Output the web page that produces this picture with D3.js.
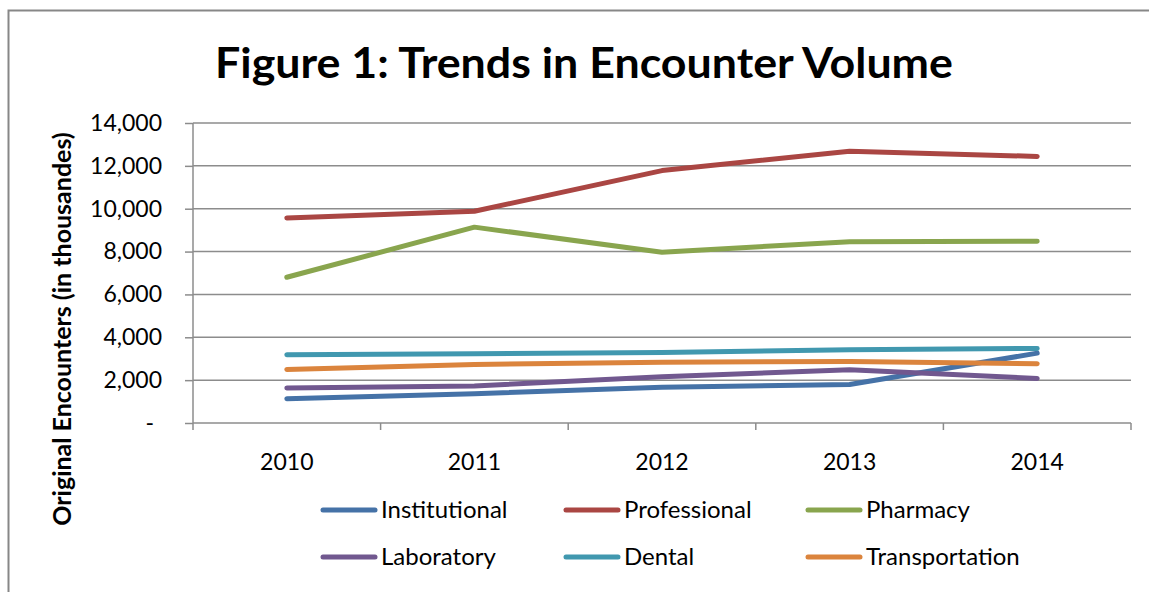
<!DOCTYPE html>
<html>
<head>
<meta charset="utf-8">
<script src="https://cdn.jsdelivr.net/npm/d3@7"></script>
<style>
  body { margin: 0; background: #fff; }
  svg { display: block; font-family: Lato, "Open Sans", sans-serif; }
</style>
</head>
<body>
<svg id="chart" width="1149" height="592"></svg>
<script>
// chart data
const years = ['2010', '2011', '2012', '2013', '2014'];
const seriesNames = ['Institutional', 'Professional', 'Pharmacy', 'Laboratory', 'Dental', 'Transportation'];
const institutional = [1130, 1370, 1670, 1800, 3260];
const professional = [9570, 9880, 11780, 12680, 12440];
const pharmacy = [6800, 9140, 7970, 8460, 8480];
const laboratory = [1630, 1730, 2160, 2480, 2080];
const dental = [3190, 3230, 3290, 3420, 3480];
const transportation = [2500, 2730, 2840, 2870, 2770];
const yTicks = [0, 2000, 4000, 6000, 8000, 10000, 12000, 14000];
const colors = ['#4572A7', '#AA4643', '#89A54E', '#71588F', '#4198AF', '#DB843D'];

const seriesValues = [institutional, professional, pharmacy, laboratory, dental, transportation];
const series = seriesNames.map((name, i) => ({name: name, values: seriesValues[i], color: colors[i]}));

const svg = d3.select('#chart');
const margin = {left: 193, right: 18, top: 123, bottom: 169};
const width = 1149 - margin.left - margin.right;
const height = 592 - margin.top - margin.bottom;

// outer frame
svg.append('path')
  .attr('d', 'M8.5,600 V10.5 H1160')
  .attr('fill', 'none')
  .attr('stroke', '#878787')
  .attr('stroke-width', 2);

svg.append('text')
  .attr('x', 584)
  .attr('y', 78)
  .attr('text-anchor', 'middle')
  .attr('font-size', 42)
  .attr('font-weight', 'bold')
  .attr('textLength', 738)
  .attr('lengthAdjust', 'spacingAndGlyphs')
  .text('Figure 1: Trends in Encounter Volume');

const x = d3.scaleBand().domain(years).range([0, width]);
const y = d3.scaleLinear().domain([0, 14000]).range([height, 0]);

const g = svg.append('g').attr('transform', `translate(${margin.left},${margin.top})`);

// gridlines
g.append('g')
  .selectAll('line')
  .data(yTicks.slice(1))
  .join('line')
  .attr('x1', 0)
  .attr('x2', width)
  .attr('y1', d => y(d))
  .attr('y2', d => y(d))
  .attr('stroke', '#8c8c8c')
  .attr('stroke-width', 1.5);

const fmt = d => d === 0 ? '-' : d3.format(',')(d);
const yAxis = d3.axisLeft(y).tickValues(yTicks).tickFormat(fmt).tickSize(8).tickPadding(23);
const yG = g.append('g').call(yAxis);
yG.select('.domain').attr('stroke', '#8c8c8c').attr('stroke-width', 1.5).attr('d', `M0,0V${height}`);
yG.selectAll('.tick line').attr('stroke', '#8c8c8c').attr('stroke-width', 1.5);
yG.selectAll('.tick text').attr('font-size', 23).attr('fill', '#000').attr('font-family', 'Lato, sans-serif');
yG.selectAll('.tick').filter(d => d === 0).select('text').attr('dx', -8);

// category boundary ticks on x axis
const xBounds = years.map(d => x(d)).concat([width]);
g.append('line')
  .attr('x1', 0).attr('x2', width)
  .attr('y1', height).attr('y2', height)
  .attr('stroke', '#8c8c8c').attr('stroke-width', 1.5);
g.append('g')
  .selectAll('line')
  .data(xBounds)
  .join('line')
  .attr('x1', d => d).attr('x2', d => d)
  .attr('y1', height).attr('y2', height + 7)
  .attr('stroke', '#8c8c8c').attr('stroke-width', 1.5);
g.append('g')
  .selectAll('text')
  .data(years)
  .join('text')
  .attr('x', d => x(d) + x.bandwidth() / 2)
  .attr('y', height + 47)
  .attr('text-anchor', 'middle')
  .attr('font-size', 23)
  .text(d => d);

// y axis title
svg.append('text')
  .attr('transform', 'translate(71,329) rotate(-90)')
  .attr('text-anchor', 'middle')
  .attr('font-size', 25)
  .attr('font-weight', 'bold')
  .text('Original Encounters (in thousandes)');

// lines
const line = d3.line()
  .x((d, i) => x(years[i]) + x.bandwidth() / 2)
  .y(d => y(d));

g.append('g')
  .selectAll('path')
  .data(series)
  .join('path')
  .attr('d', d => line(d.values))
  .attr('fill', 'none')
  .attr('stroke', d => d.color)
  .attr('stroke-width', 5)
  .attr('stroke-linecap', 'round')
  .attr('stroke-linejoin', 'round');

// legend
const legendX = [323, 566, 808];
const legendY = [510, 557];
const legend = svg.append('g')
  .selectAll('g')
  .data(series)
  .join('g')
  .attr('transform', (d, i) => `translate(${legendX[i % 3]},${legendY[Math.floor(i / 3)]})`);
legend.append('line')
  .attr('x1', 0).attr('x2', 52)
  .attr('stroke', d => d.color)
  .attr('stroke-width', 5)
  .attr('stroke-linecap', 'round');
legend.append('text')
  .attr('x', 58)
  .attr('y', 8)
  .attr('font-size', 24)
  .text(d => d.name);
</script>
</body>
</html>
